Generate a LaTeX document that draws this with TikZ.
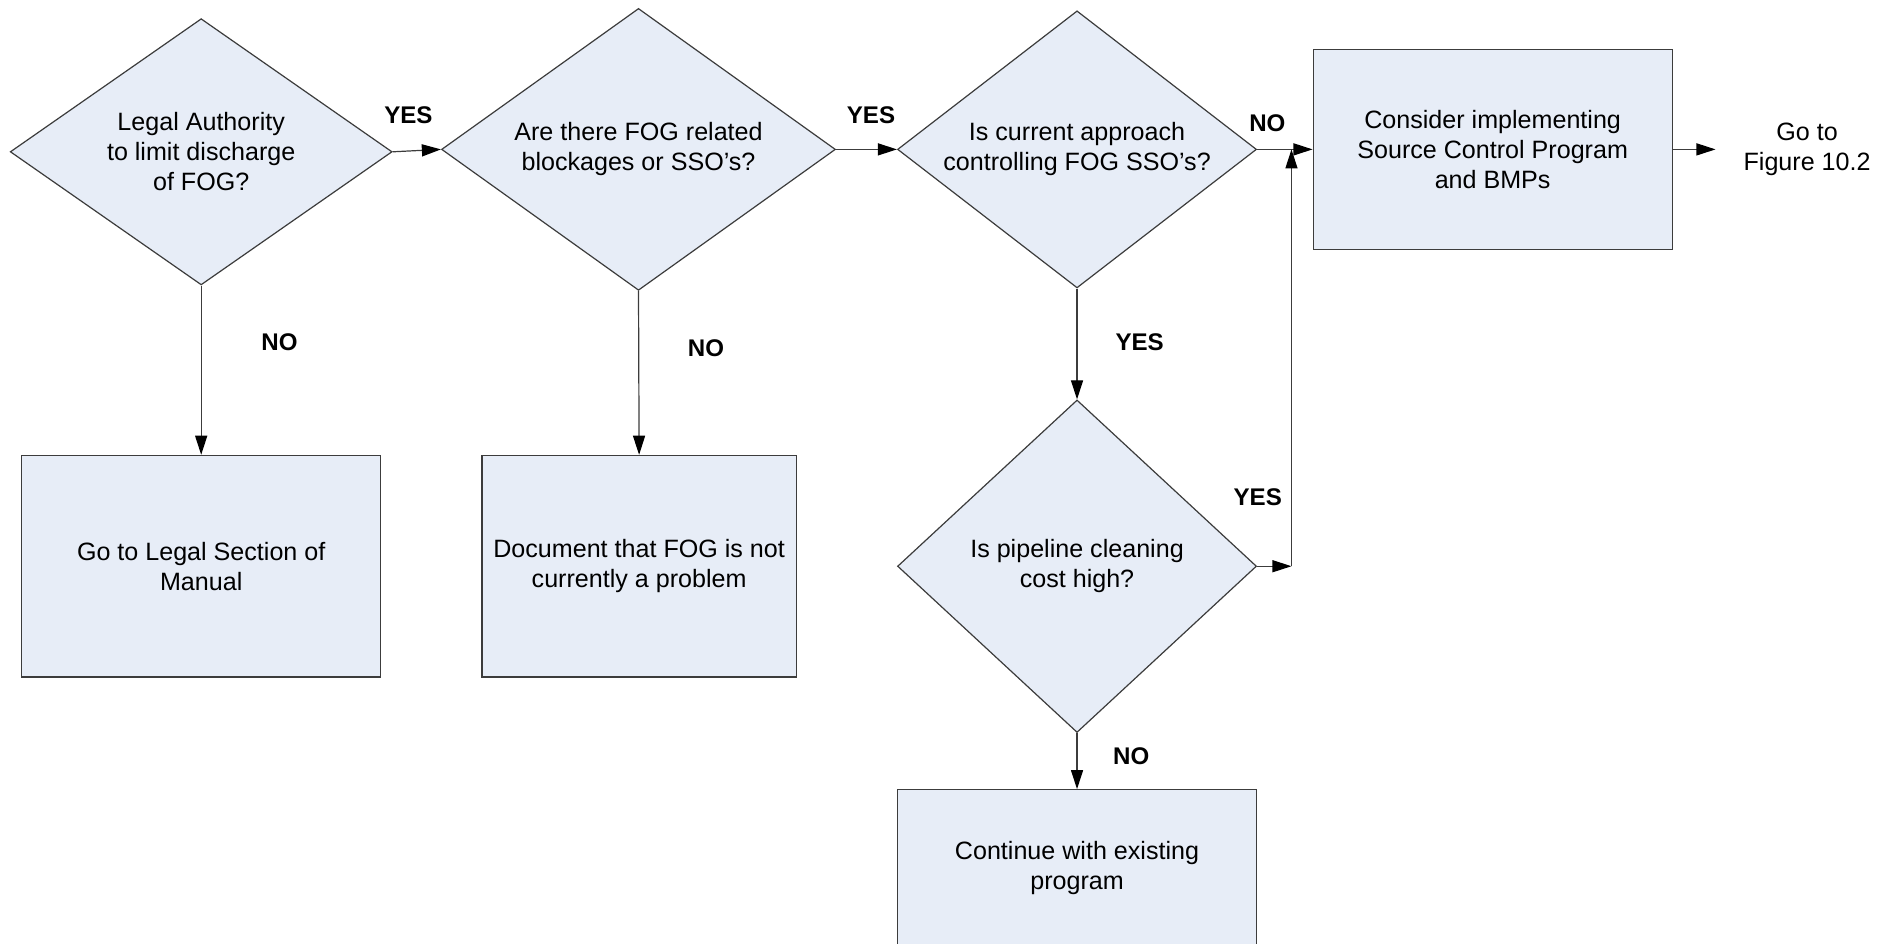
\documentclass[tikz,border=0pt]{standalone}
\usepackage{fontspec}
\setmainfont{Liberation Sans}
\usepackage{tikz}
\usetikzlibrary{arrows.meta,shapes.geometric}

\definecolor{fogfill}{RGB}{231,237,247}
\definecolor{fogline}{RGB}{60,60,60}

\tikzset{
  decision/.style={diamond, draw=fogline, fill=fogfill, line width=0.6pt,
    inner sep=0pt, align=center, font=\fontsize{12.5}{15}\selectfont},
  process/.style={rectangle, draw=fogline, fill=fogfill, line width=0.6pt,
    inner sep=0pt, align=center, font=\fontsize{12.5}{15}\selectfont},
  answer/.style={font=\fontsize{12}{14}\selectfont\bfseries},
  arr/.style={draw=fogline, line width=0.6pt,
    -{Triangle[length=9.5pt,width=6pt,color=black]}}
}

\begin{document}
\begin{tikzpicture}[x=0.6pt, y=-0.6pt]
    \clip (0,0) rectangle (1568,783);
    %Questions
    \node[decision, aspect=1.43, minimum width=190.2pt, minimum height=132.6pt] (legal) at (167,126)
        {Legal Authority\\to limit discharge\\of FOG?};
    \node[decision, aspect=1.4, minimum width=196.2pt, minimum height=140.4pt] (block) at (530,124)
        {Are there FOG related\\blockages or SSO’s?};
    \node[decision, aspect=1.3, minimum width=178.8pt, minimum height=138pt] (approach) at (894,124)
        {Is current approach\\controlling FOG SSO’s?};
    \node[decision, aspect=1.08, minimum width=178.8pt, minimum height=165.6pt] (cost) at (894,470)
        {Is pipeline cleaning\\cost high?};
    %Actions
    \node[process, minimum width=178.8pt, minimum height=99.6pt] (source) at (1239,124)
        {Consider implementing\\Source Control Program\\and BMPs};
    \node[process, minimum width=178.8pt, minimum height=110.4pt] (manual) at (167,470)
        {Go to Legal Section of\\Manual};
    \node[process, minimum width=156.6pt, minimum height=110.4pt] (noproblem) at (530.5,470)
        {Document that FOG is not\\currently a problem};
    \node[process, minimum width=178.8pt, minimum height=78pt, anchor=north] (existing) at (894,655)
        {Continue with existing\\program};
    \node[align=center, font=\fontsize{12.5}{15}\selectfont] (next) at (1500,124) {Go to\\Figure 10.2};
    %Connectors
    \coordinate (join) at (1072,470);
    \coordinate (exit) at (1424,124);
    \draw[arr] (legal.east) -- (block.west);
    \draw[arr] (block.east) -- (approach.west);
    \draw[arr] (approach.east) -- (source.west);
    \draw[arr] (legal.south) -- (manual.north);
    \draw[arr] (block.south) -- (noproblem.north);
    \draw[arr] (approach.south) -- (cost.north);
    \draw[arr] (cost.east) -- (join);
    \draw[arr] (join) -- (join |- source.west);
    \draw[arr] (cost.south) -- (existing.north);
    \draw[arr] (source.east) -- (exit);
    %Answers
    \node[answer] (y1) at (339,96) {YES};
    \node[answer] (y2) at (723,96) {YES};
    \node[answer] (n3) at (1052,102) {NO};
    \node[answer] (n1) at (232,284) {NO};
    \node[answer] (n2) at (586,289) {NO};
    \node[answer] (y3) at (946,284) {YES};
    \node[answer] (y4) at (1044,413) {YES};
    \node[answer] (n4) at (939,628) {NO};
\end{tikzpicture}
\end{document}
